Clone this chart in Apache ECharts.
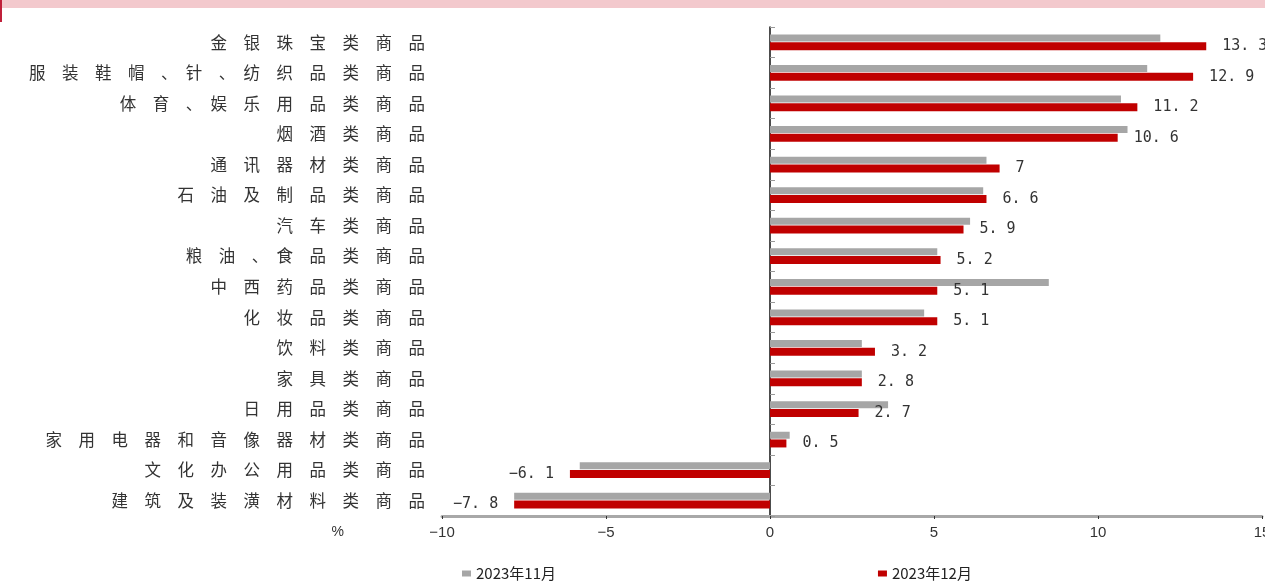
<!DOCTYPE html>
<html>
<head>
<meta charset="utf-8">
<script src="https://cdn.jsdelivr.net/npm/echarts@6/dist/echarts.min.js"></script>
<style>
  html, body { margin: 0; padding: 0; background: #fff; }
  #chart { width: 1265px; height: 581px; }
</style>
</head>
<body>
<div id="chart"></div>
<script>
// 商品类别（自上而下）
const categories = [
  '金银珠宝类商品', '服装鞋帽、针、纺织品类商品', '体育、娱乐用品类商品', '烟酒类商品',
  '通讯器材类商品', '石油及制品类商品', '汽车类商品', '粮油、食品类商品',
  '中西药品类商品', '化妆品类商品', '饮料类商品', '家具类商品',
  '日用品类商品', '家用电器和音像器材类商品', '文化办公用品类商品', '建筑及装潢材料类商品'
];
const nov2023 = [11.9, 11.5, 10.7, 10.9, 6.6, 6.5, 6.1, 5.1, 8.5, 4.7, 2.8, 2.8, 3.6, 0.6, -5.8, -7.8];
const dec2023 = [13.3, 12.9, 11.2, 10.6, 7, 6.6, 5.9, 5.2, 5.1, 5.1, 3.2, 2.8, 2.7, 0.5, -6.1, -7.8];
const seriesNames = ['2023年11月', '2023年12月'];
const xTicks = { min: -10, max: 15, interval: 5 };

const chart = echarts.init(document.getElementById('chart'));

const fmtNum = v => String(v).replace('-', '−').replace('.', '. ');

const option = {
  animation: false,
  backgroundColor: '#fff',
  graphic: [
    // 顶部装饰条
    { type: 'rect', shape: { x: 0, y: 0, width: 1265, height: 8 }, style: { fill: '#f3c9cd' } },
    { type: 'rect', shape: { x: 0, y: 0, width: 2, height: 22 }, style: { fill: '#c0203a' } }
  ],
  grid: { left: 442, right: 3, top: 27, bottom: 65, containLabel: false, outerBoundsMode: 'none' },
  legend: {
    data: seriesNames,
    left: 457,
    top: 561,
    itemWidth: 9,
    itemHeight: 6,
    itemGap: 322,
    icon: 'rect',
    textStyle: { fontSize: 15, color: '#222', fontFamily: 'Noto Sans CJK SC' }
  },
  xAxis: {
    type: 'value',
    min: xTicks.min,
    max: xTicks.max,
    interval: xTicks.interval,
    name: '%',
    nameLocation: 'start',
    nameGap: 98,
    nameTextStyle: { fontSize: 14, color: '#333', verticalAlign: 'top', padding: [9, 0, 0, 0] },
    axisLine: { show: true, onZero: false, lineStyle: { color: '#a8a8a8', width: 3 } },
    axisTick: { show: true, length: 3, lineStyle: { color: '#333' } },
    axisLabel: {
      fontSize: 15, color: '#333', margin: 9, fontFamily: 'Liberation Sans',
      formatter: v => String(v).replace('-', '−')
    },
    splitLine: { show: false }
  },
  yAxis: [
    {
      // 零轴线
      type: 'category',
      data: categories,
      inverse: true,
      position: 'left',
      axisLine: { show: true, onZero: true, lineStyle: { color: '#111', width: 1.5 } },
      axisTick: { show: true, inside: true, length: 5, lineStyle: { color: '#999' } },
      axisLabel: { show: false }
    },
    {
      // 左侧类别标签
      type: 'category',
      data: categories,
      inverse: true,
      position: 'left',
      axisLine: { show: false, onZero: false },
      axisTick: { show: false },
      axisLabel: {
        margin: 17,
        fontSize: 16.5,
        color: '#333',
        fontFamily: 'Noto Sans CJK SC',
        formatter: s => s.split('').join('\u3000')
      }
    }
  ],
  series: [
    {
      name: seriesNames[0],
      type: 'bar',
      yAxisIndex: 0,
      data: nov2023,
      barWidth: 7,
      barGap: '10%',
      itemStyle: { color: '#a6a6a6' }
    },
    {
      name: seriesNames[1],
      type: 'bar',
      yAxisIndex: 0,
      data: dec2023.map(v => ({
        value: v,
        label: { position: v < 0 ? 'left' : 'right' }
      })),
      barWidth: 8,
      itemStyle: { color: '#c00000' },
      label: {
        show: true,
        distance: 16,
        fontSize: 15,
        color: '#333',
        fontFamily: 'DejaVu Sans Mono',
        formatter: p => fmtNum(p.value)
      }
    }
  ]
};

chart.setOption(option);
</script>
</body>
</html>
